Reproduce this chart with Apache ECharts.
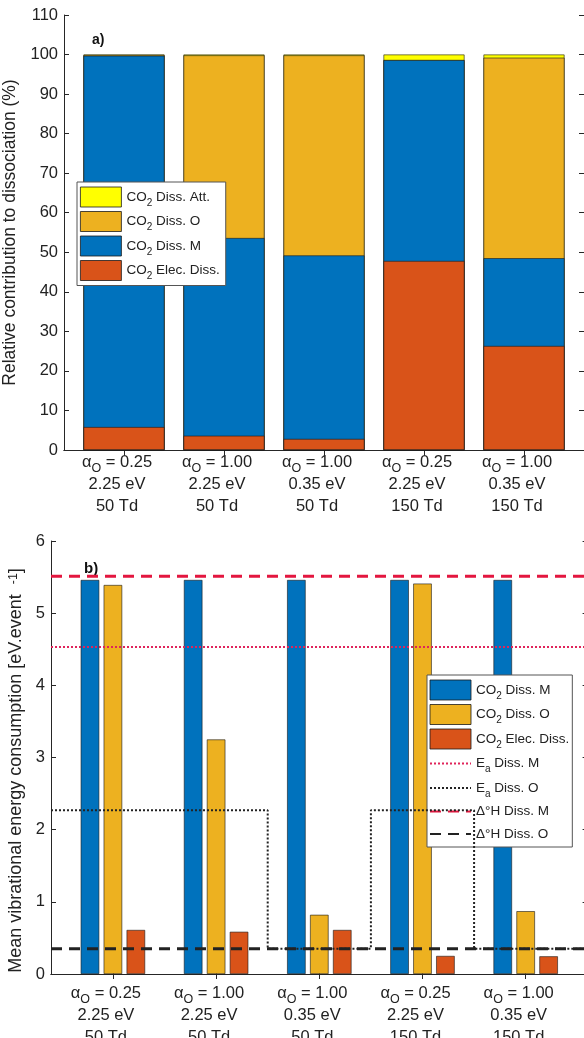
<!DOCTYPE html>
<html><head><meta charset="utf-8">
<script src="https://cdn.jsdelivr.net/npm/echarts@6/dist/echarts.min.js"></script>
<style>html,body{margin:0;padding:0;background:#fff;}#c{width:584px;height:1038px;}</style>
</head><body><div id="c"></div>
<script>
// ---- categories / tick labels ----
const xPos = [1, 2, 3, 4, 5];
const alphaO = ['0.25', '1.00', '1.00', '0.25', '1.00'];
const eaLabels = ['2.25 eV', '2.25 eV', '0.35 eV', '2.25 eV', '0.35 eV'];
const fieldLabels = ['50 Td', '50 Td', '50 Td', '150 Td', '150 Td'];

// ---- panel a) relative contribution (%) ----
const elecDiss = [5.8, 3.6, 2.8, 47.8, 26.3];
const dissM = [93.9, 50.0, 46.4, 50.8, 22.2];
const dissO = [0.2, 46.2, 50.6, 0.0, 50.7];
const dissAtt = [0.1, 0.2, 0.2, 1.4, 0.8];

// ---- panel b) mean vibrational energy consumption ----
const meanM = [5.46, 5.46, 5.46, 5.46, 5.46];
const meanO = [5.39, 3.25, 0.82, 5.41, 0.87];
const meanElec = [0.61, 0.585, 0.61, 0.25, 0.245];
const eaDissM = 4.53;
const eaDissO = [2.27, 2.27, 0.35, 2.27, 0.35];
const dHDissM = 5.51;
const dHDissO = 0.35;
const xRange = [0.4, 5.6];

const C_BLUE = '#0072BD', C_ORANGE = '#EDB120', C_RED = '#D95319', C_YEL = '#FFFF00';
const AX = '#262626';
const TXT = '#222';
const FONT = 'Liberation Sans, Arial, Helvetica, sans-serif';

const pairs = (arr) => arr.map((v, i) => [xPos[i], v]);
const flat = (v) => [[xRange[0], v], [xRange[1], v]];
const cumsum = (...arrs) => arrs[0].map((_, i) => arrs.reduce((s, a) => s + a[i], 0));
function stepPts(vals) {
  const pts = [[xRange[0], vals[0]]];
  for (let i = 0; i < vals.length - 1; i++) {
    const b = (xPos[i] + xPos[i + 1]) / 2;
    pts.push([b, vals[i]]);
    pts.push([b, vals[i + 1]]);
  }
  pts.push([xRange[1], vals[vals.length - 1]]);
  return pts;
}

const xLabelRich = {
  a: { fontSize: 16.5, fontFamily: FONT, color: TXT, lineHeight: 22 },
  s: { fontSize: 12.5, fontFamily: FONT, color: TXT, lineHeight: 8, padding: [14, 0, 0, 0] },
  b: { fontSize: 16.5, fontFamily: FONT, color: TXT, lineHeight: 22 }
};
function xLabelFmt(v) {
  const i = xPos.indexOf(Math.round(v));
  if (i < 0) return '';
  return '{a|α}{s|O}{a| = ' + alphaO[i] + '}\n{b|' + eaLabels[i] + '}\n{b|' + fieldLabels[i] + '}';
}

function xAxes(grid, margin) {
  return [
    { type: 'value', gridIndex: grid, min: xRange[0], max: xRange[1], position: 'bottom',
      axisLine: { lineStyle: { color: AX, width: 1 } },
      axisTick: { inside: true, length: 5, customValues: xPos, lineStyle: { color: AX } },
      axisLabel: { customValues: xPos, formatter: xLabelFmt, rich: xLabelRich, margin: margin, color: TXT, padding: [0, 14, 0, 0] },
      splitLine: { show: false } },
    { type: 'value', gridIndex: grid, min: xRange[0], max: xRange[1], position: 'top',
      axisLine: { lineStyle: { color: AX, width: 1 } },
      axisTick: { inside: true, length: 5, customValues: xPos, lineStyle: { color: AX } },
      axisLabel: { show: false }, splitLine: { show: false } }
  ];
}
function yAxes(grid, min, max, interval, name, gap, nameStyle) {
  return [
    { type: 'value', gridIndex: grid, min: min, max: max, interval: interval, position: 'left',
      name: name, nameLocation: 'middle', nameRotate: 90, nameGap: gap,
      nameTextStyle: Object.assign({ fontFamily: FONT, color: TXT }, nameStyle),
      axisLine: { show: true, lineStyle: { color: AX, width: 1 } },
      axisTick: { show: true, inside: true, length: 5, lineStyle: { color: AX } },
      axisLabel: { fontSize: 16.5, fontFamily: FONT, color: TXT, margin: 6 },
      splitLine: { show: false } },
    { type: 'value', gridIndex: grid, min: min, max: max, interval: interval, position: 'right',
      axisLine: { show: true, lineStyle: { color: AX, width: 1 } },
      axisTick: { show: true, inside: true, length: 5, lineStyle: { color: AX } },
      axisLabel: { show: false }, splitLine: { show: false } }
  ];
}

const legendRich = {
  t: { fontSize: 13.5, fontFamily: FONT, color: TXT, lineHeight: 20 },
  s: { fontSize: 10, fontFamily: FONT, color: TXT, lineHeight: 8, padding: [12, 0, 0, 0] }
};
const legendText = {
  aAtt: '{t|CO}{s|2}{t| Diss. Att.}', aO: '{t|CO}{s|2}{t| Diss. O}', aM: '{t|CO}{s|2}{t| Diss. M}', aE: '{t|CO}{s|2}{t| Elec. Diss.}',
  bM: '{t|CO}{s|2}{t| Diss. M}', bO: '{t|CO}{s|2}{t| Diss. O}', bE: '{t|CO}{s|2}{t| Elec. Diss.}',
  eaM: '{t|E}{s|a}{t| Diss. M}', eaO: '{t|E}{s|a}{t| Diss. O}', hM: '{t|Δ°H Diss. M}', hO: '{t|Δ°H Diss. O}'
};
const barItem = (n) => ({ name: n, icon: 'rect' });
const lineItem = (n) => ({ name: n, itemStyle: { opacity: 0 } });

const barBorder = { borderColor: '#1a1a1a', borderWidth: 0.6 };
function topBar(name, data, color) {
  return { name: name, type: 'bar', xAxisIndex: 0, yAxisIndex: 0, barWidth: 81, barGap: '-100%',
    data: pairs(data), itemStyle: Object.assign({ color: color }, barBorder), silent: true };
}
function botBar(name, data, color) {
  return { name: name, type: 'bar', xAxisIndex: 2, yAxisIndex: 2, barWidth: 18.5, barGap: '24%',
    data: pairs(data), itemStyle: Object.assign({ color: color }, barBorder), silent: true };
}
function botLine(name, data, color, width, dash) {
  return { name: name, type: 'line', xAxisIndex: 2, yAxisIndex: 2, data: data, symbol: 'none', showSymbol: false,
    lineStyle: { color: color, width: width, type: dash }, itemStyle: { color: color }, z: 5, silent: true };
}

const legendCommon = {
  orient: 'vertical', itemWidth: 41, itemHeight: 20, selectedMode: false, backgroundColor: '#fff',
  borderColor: '#555', borderWidth: 1, formatter: (n) => legendText[n],
  textStyle: { fontSize: 13.5, lineHeight: 20, fontFamily: FONT, color: TXT, rich: legendRich },
  itemStyle: { borderWidth: 0.8 }
};

const option = {
  animation: false,
  backgroundColor: '#fff',
  grid: [
    { left: 64, top: 15, width: 520, height: 435, containLabel: false, outerBoundsMode: 'none' },
    { left: 51, top: 541, width: 536.6, height: 433, containLabel: false, outerBoundsMode: 'none' }
  ],
  xAxis: xAxes(0, 1).concat(xAxes(1, 8)),
  yAxis: yAxes(0, 0, 110, 10, 'Relative contribution to dissociation (%)', 32, { fontSize: 17.5 })
    .concat(yAxes(1, 0, 6, 1, '{n|Mean vibrational energy consumption [eV.event  }{p|-1}{n|]}', 20, {
      fontSize: 18, padding: [0, 26, 0, 0],
      rich: {
        n: { fontSize: 18, fontFamily: FONT, color: TXT },
        p: { fontSize: 12.5, fontFamily: FONT, color: TXT, verticalAlign: 'top', lineHeight: 10 }
      }
    })),
  legend: [
    Object.assign({}, legendCommon, { data: ['aAtt', 'aO', 'aM', 'aE'].map(barItem), left: 77, top: 182,
      itemGap: 2.5, padding: [4, 6, 4, 3] }),
    Object.assign({}, legendCommon, { data: ['bM', 'bO', 'bE'].map(barItem).concat(['eaM', 'eaO', 'hM', 'hO'].map(lineItem)),
      left: 427, top: 675, itemGap: 2.5, padding: [4, 3, 3, 2] })
  ],
  graphic: [
    { type: 'text', left: 92, top: 33, style: { text: 'a)', font: 'bold 14px ' + FONT, fill: '#111' } },
    { type: 'text', left: 84, top: 561, style: { text: 'b)', font: 'bold 15px ' + FONT, fill: '#111' } }
  ],
  series: [
    topBar('aAtt', cumsum(elecDiss, dissM, dissO, dissAtt), C_YEL),
    topBar('aO', cumsum(elecDiss, dissM, dissO), C_ORANGE),
    topBar('aM', cumsum(elecDiss, dissM), C_BLUE),
    topBar('aE', elecDiss, C_RED),
    botBar('bM', meanM, C_BLUE),
    botBar('bO', meanO, C_ORANGE),
    botBar('bE', meanElec, C_RED),
    botLine('eaM', flat(eaDissM), '#e0245a', 2, [2, 2]),
    botLine('eaO', stepPts(eaDissO), '#222', 2, [2, 2]),
    botLine('hM', flat(dHDissM), '#e3163f', 3, [11, 7]),
    botLine('hO', flat(dHDissO), '#222', 3, [11, 7])
  ]
};
const chart = echarts.init(document.getElementById('c'), null, { renderer: 'canvas' });
chart.setOption(option);
</script></body></html>
